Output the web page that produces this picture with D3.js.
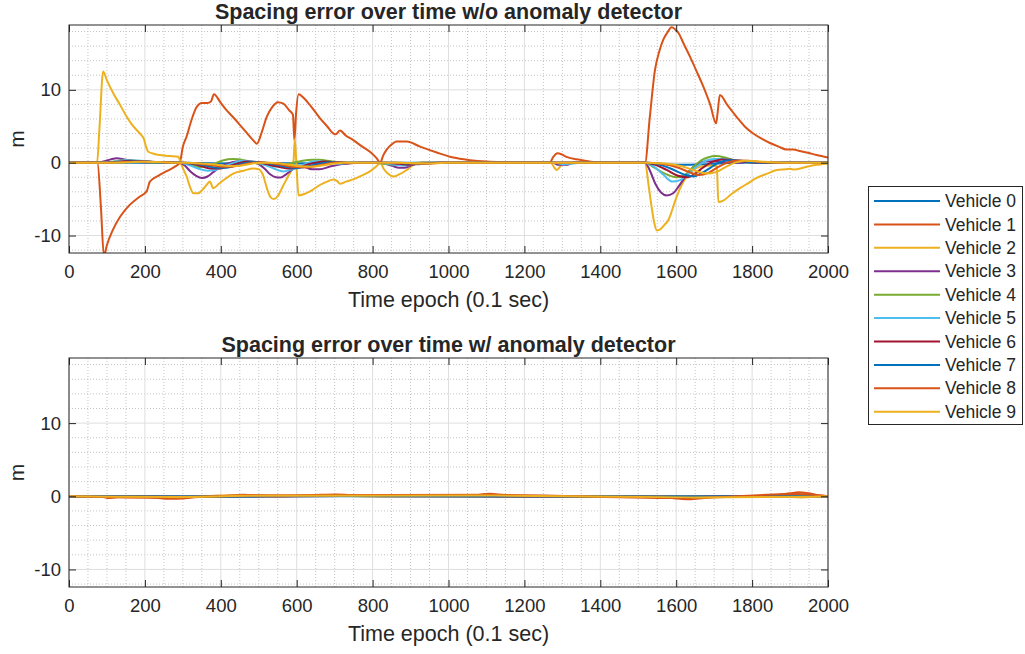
<!DOCTYPE html>
<html><head><meta charset="utf-8">
<script src="https://cdn.jsdelivr.net/npm/d3@7"></script>
<style>
body{margin:0;background:#fff;}
svg{display:block;}
text{font-family:"Liberation Sans",Arial,Helvetica,sans-serif;fill:#262626;}
</style>
</head><body>
<svg id="chart" width="1025" height="654"></svg>
<script>
// ---------------- data ----------------
const vehicleNames = ["Vehicle 0","Vehicle 1","Vehicle 2","Vehicle 3","Vehicle 4","Vehicle 5","Vehicle 6","Vehicle 7","Vehicle 8","Vehicle 9"];
const vehicleColors = ["#0072BD","#D95319","#EDB120","#7E2F8E","#77AC30","#4DBEEE","#A2142F","#0072BD","#D95319","#EDB120"];
const xTickValues = [0,200,400,600,800,1000,1200,1400,1600,1800,2000];
const yTickValues = [-10,0,10];
const xMinorValues = [50,100,150,250,300,350,450,500,550,650,700,750,850,900,950,1050,1100,1150,1250,1300,1350,1450,1500,1550,1650,1700,1750,1850,1900,1950];
const yMinorValues = [-12,-8,-6,-4,-2,2,4,6,8,12,14,16,18];
const xDomain = [0,2000];
const yDomain = [-12.4,18.9];
const panelTitles = ["Spacing error over time w/o anomaly detector","Spacing error over time w/ anomaly detector"];
const xAxisLabel = "Time epoch (0.1 sec)";
const yAxisLabel = "m";

// top panel (w/o detector): [epoch, error in m]
const topV0 = [[0,0],[300,0],[400,-0.1],[500,0],[600,-0.1],[700,0],[1520,0],[1600,-0.3],[1680,-0.2],[1750,0],[2000,0]];
const topV1 = [[0,0],[60,0.05],[75,0],[84,-6],[92,-12.8],[100,-11.3],[115,-9.3],[135,-7.4],[160,-5.8],[185,-4.7],[205,-3.9],[213,-2.6],[235,-1.8],[260,-1.1],[280,-0.5],[292,0],[300,2.2],[310,3.6],[323,5.9],[336,7.6],[350,8.2],[365,8.2],[374,8.4],[382,9.4],[400,8.2],[415,7.2],[435,6.1],[450,5.2],[470,4.0],[485,3.1],[495,2.6],[508,4.2],[521,6.3],[535,7.6],[550,8.3],[565,8.1],[580,7.2],[590,6.6],[594,3.0],[598,6.5],[605,9.4],[620,8.8],[635,7.9],[660,6.2],[680,5.0],[697,4.0],[703,3.9],[714,4.4],[730,3.7],[749,3.1],[770,2.3],[793,1.5],[811,0.6],[820,0],[828,1.0],[837,1.8],[850,2.5],[863,2.9],[890,2.9],[925,2.2],[969,1.4],[1013,0.7],[1057,0.35],[1100,0.15],[1145,0.05],[1200,0],[1267,0],[1275,0.7],[1287,1.3],[1300,1.1],[1311,0.8],[1346,0.4],[1381,0.1],[1420,0],[1518,0],[1530,6],[1544,12.7],[1555,15.2],[1566,16.9],[1576,17.8],[1588,18.6],[1597,18.3],[1606,17.8],[1620,16.3],[1636,14.6],[1655,12.4],[1671,10.5],[1690,7.9],[1705,5.4],[1709,6.8],[1715,9.3],[1735,7.9],[1759,6.3],[1780,5.0],[1803,4.0],[1825,3.3],[1847,2.7],[1870,2.2],[1891,1.8],[1909,1.8],[1925,1.6],[1944,1.4],[1970,1.05],[2000,0.7]];
const topV2 = [[0,0],[60,0],[74,0],[80,4.5],[90,12.5],[100,11.3],[117,9.5],[135,7.9],[152,6.3],[165,5.3],[178,4.5],[192,3.7],[197,3.3],[203,2.2],[209,1.5],[225,1.2],[240,1.05],[265,0.9],[288,0.8],[294,0],[302,-1],[310,-1.9],[318,-3.2],[328,-4.2],[340,-4.2],[352,-3.7],[365,-2.9],[371,-2.6],[380,-3.5],[395,-2.9],[415,-2.1],[433,-1.5],[460,-1.1],[486,-0.8],[500,-0.9],[512,-1.8],[522,-3.6],[532,-4.8],[540,-5.0],[550,-4.6],[565,-3.1],[578,-1.8],[588,-0.7],[592,0.5],[595,3.2],[599,0],[605,-4.5],[620,-4.3],[640,-3.8],[660,-3.1],[680,-2.6],[697,-2.3],[706,-2.5],[714,-2.9],[730,-2.6],[749,-2.3],[770,-1.8],[793,-1.2],[810,-0.5],[820,0],[830,-0.9],[840,-1.5],[855,-1.9],[870,-1.6],[890,-1.0],[907,-0.3],[925,0],[1270,0],[1278,-0.6],[1285,-1.0],[1293,-0.6],[1300,0],[1518,0],[1527,-3],[1535,-6.0],[1542,-8.2],[1549,-9.3],[1557,-9.2],[1568,-8.6],[1579,-7.9],[1584,-7.3],[1588,-6.7],[1601,-4.7],[1614,-3.1],[1628,-1.9],[1645,-1.0],[1663,-0.55],[1690,-0.4],[1707,-0.45],[1711,-5.4],[1724,-5.2],[1746,-4.3],[1768,-3.5],[1790,-2.8],[1812,-2.1],[1840,-1.5],[1865,-1.0],[1890,-0.9],[1900,-0.85],[1910,-0.95],[1944,-0.55],[1970,-0.3],[2000,-0.1]];
const topV3 = [[0,0],[75,0],[90,0.15],[110,0.45],[126,0.6],[145,0.45],[170,0.2],[200,0.05],[292,0],[305,-0.4],[320,-1.2],[335,-1.8],[350,-2.1],[365,-1.9],[380,-1.3],[395,-0.7],[410,-0.3],[430,0.05],[450,0.2],[480,0.1],[500,-0.2],[515,-0.8],[530,-1.6],[545,-2.0],[558,-2.05],[572,-1.6],[590,-0.9],[600,-0.5],[615,-0.5],[640,-0.9],[660,-0.9],[690,-0.5],[720,-0.2],[760,0],[820,0],[850,-0.4],[870,-0.7],[885,-0.7],[905,-0.3],[930,0],[1275,0],[1290,-0.3],[1310,-0.3],[1330,0],[1518,0],[1530,-1.0],[1545,-2.9],[1560,-4.1],[1575,-4.5],[1592,-4.2],[1606,-3.3],[1619,-2.3],[1632,-1.3],[1645,-0.6],[1660,-0.1],[1675,0.15],[1700,0.2],[1730,0.05],[1760,0],[2000,0]];
const topV4 = [[0,0],[80,0],[110,0.1],[140,0.3],[165,0.3],[200,0.1],[240,0],[292,0],[320,-0.3],[345,-0.6],[365,-0.5],[385,-0.1],[405,0.3],[433,0.5],[460,0.35],[490,0],[520,-0.3],[545,-0.5],[570,-0.3],[590,0],[610,0.2],[640,0.4],[660,0.4],[690,0.2],[720,0],[800,0],[840,-0.2],[880,-0.3],[920,0],[1280,0],[1300,-0.15],[1330,0],[1518,0],[1540,-0.6],[1570,-1.5],[1600,-2.0],[1625,-1.6],[1645,-0.6],[1665,0.3],[1685,0.75],[1705,0.9],[1725,0.75],[1750,0.35],[1780,0.05],[1820,-0.05],[1860,0],[2000,0]];
const topV5 = [[0,0],[80,0],[115,0.1],[150,0.35],[180,0.3],[220,0.1],[260,0],[292,0],[315,-0.3],[340,-0.8],[365,-1.1],[385,-1.0],[405,-0.6],[430,-0.1],[455,0.25],[480,0.2],[510,-0.2],[540,-0.8],[565,-1.2],[590,-0.9],[610,-0.5],[630,0],[650,0.2],[680,0.1],[710,-0.15],[760,0],[820,0],[860,-0.3],[890,-0.4],[920,-0.1],[960,0],[1280,0],[1300,-0.2],[1330,-0.1],[1360,0],[1518,0],[1540,-0.5],[1565,-1.6],[1590,-2.6],[1610,-2.4],[1630,-1.6],[1655,-0.5],[1680,0.3],[1700,0.5],[1725,0.5],[1750,0.25],[1790,0],[2000,0]];
const topV6 = [[0,0],[90,0],[125,0.1],[160,0.25],[195,0.2],[240,0.05],[292,0],[320,-0.1],[350,-0.5],[375,-0.8],[400,-0.8],[420,-0.5],[445,-0.1],[470,0.15],[495,0.1],[520,-0.2],[555,-0.6],[580,-0.8],[605,-0.7],[625,-0.3],[650,0],[675,0.15],[700,0.05],[730,-0.1],[780,0],[830,0],[870,-0.15],[900,-0.3],[930,-0.1],[980,0],[1518,0],[1545,-0.3],[1575,-1.0],[1605,-1.8],[1630,-2.0],[1650,-1.5],[1670,-0.7],[1695,0.1],[1720,0.45],[1745,0.4],[1770,0.15],[1810,0],[2000,0]];
const topV7 = [[0,0],[95,0],[135,0.1],[175,0.2],[215,0.12],[260,0],[292,0],[330,-0.1],[360,-0.4],[390,-0.7],[415,-0.7],[440,-0.4],[465,-0.05],[490,0.1],[515,0],[545,-0.3],[575,-0.6],[600,-0.75],[620,-0.6],[645,-0.3],[670,-0.05],[700,0.1],[730,0],[850,0],[890,-0.1],[920,-0.2],[960,-0.05],[1000,0],[1518,0],[1550,-0.2],[1585,-0.8],[1620,-1.6],[1645,-1.9],[1665,-1.5],[1690,-0.7],[1712,0],[1735,0.35],[1760,0.35],[1790,0.1],[1830,0],[2000,0]];
const topV8 = [[0,0],[100,0],[145,0.08],[190,0.15],[230,0.08],[280,0],[300,0],[340,-0.1],[375,-0.35],[405,-0.55],[430,-0.55],[455,-0.3],[480,-0.05],[505,0.05],[530,-0.05],[560,-0.3],[595,-0.6],[625,-0.65],[650,-0.45],[680,-0.15],[710,0.05],[740,0],[860,0],[900,-0.1],[940,-0.15],[980,0],[1518,0],[1560,-0.15],[1600,-0.6],[1635,-1.3],[1660,-1.7],[1685,-1.4],[1710,-0.6],[1735,0],[1760,0.3],[1790,0.25],[1830,0.05],[1870,0],[2000,0]];
const topV9 = [[0,0],[105,0],[155,0.05],[200,0.12],[245,0.06],[290,0],[310,0],[350,-0.1],[390,-0.3],[420,-0.45],[445,-0.45],[470,-0.25],[495,-0.05],[520,0],[545,-0.05],[575,-0.25],[610,-0.5],[640,-0.55],[665,-0.4],[695,-0.15],[725,0],[870,0],[920,-0.08],[960,-0.1],[1000,0],[1518,0],[1570,-0.1],[1615,-0.5],[1650,-1.1],[1680,-1.5],[1705,-1.3],[1730,-0.6],[1755,0],[1780,0.25],[1810,0.2],[1850,0.05],[1890,0],[2000,0]];

// bottom panel (w/ detector)
const botV0 = [[0,0],[2000,0]];
const botV1 = [[0,0],[80,0],[108,-0.25],[140,-0.05],[180,0],[230,-0.2],[266,-0.35],[300,-0.3],[330,-0.1],[360,0],[420,0.1],[459,0.2],[500,0.1],[540,0],[600,0.05],[661,0.2],[705,0.25],[740,0.15],[790,0.05],[830,0],[1000,0.05],[1060,0.1],[1109,0.35],[1140,0.2],[1180,0],[1250,0.05],[1400,0],[1560,0],[1600,-0.3],[1628,-0.4],[1660,-0.3],[1700,-0.1],[1760,0],[1850,0.1],[1900,0.4],[1922,0.55],[1950,0.4],[1980,0.1],[2000,0]];
const botV2 = [[0,0],[100,-0.1],[140,0],[240,-0.1],[290,-0.15],[340,0],[450,0.1],[500,0],[650,0.1],[720,0.1],[800,0],[1100,0.1],[1150,0],[1560,0],[1600,-0.2],[1640,-0.25],[1700,-0.1],[1760,0],[1880,-0.05],[1930,-0.15],[1970,-0.05],[2000,0]];
const botV3 = [[0,0],[120,-0.05],[280,-0.1],[450,0.05],[700,0.05],[1120,0.05],[1620,-0.1],[1920,0.1],[2000,0]];
const botV4 = [[0,0],[130,-0.05],[290,-0.08],[460,0.04],[710,0.05],[1620,-0.08],[1920,0.08],[2000,0]];
const botV5 = [[0,0],[140,-0.04],[300,-0.07],[470,0.03],[720,0.04],[1630,-0.07],[1925,0.07],[2000,0]];
const botV6 = [[0,0],[150,-0.03],[300,-0.06],[720,0.03],[1630,-0.06],[1930,0.05],[2000,0]];
const botV7 = [[0,0],[160,-0.03],[310,-0.05],[730,0.03],[1640,-0.05],[1930,0.04],[2000,0]];
const botV8 = [[0,0],[120,-0.12],[280,-0.2],[460,0.12],[690,0.15],[1110,0.2],[1630,-0.25],[1920,0.3],[2000,0]];
const botV9 = [[0,0],[130,-0.06],[290,-0.1],[470,0.06],[700,0.08],[1120,0.1],[1640,-0.15],[1930,-0.08],[2000,0]];

const topSeries = [topV0,topV1,topV2,topV3,topV4,topV5,topV6,topV7,topV8,topV9];
const botSeries = [botV0,botV1,botV2,botV3,botV4,botV5,botV6,botV7,botV8,botV9];

// ---------------- drawing ----------------
const svg = d3.select("#chart");
svg.append("rect").attr("width",1025).attr("height",654).attr("fill","#fff");

const left = 69, right = 828;
const panels = [
  {top:25, bottom:253, title:panelTitles[0], series:topSeries, id:"p0"},
  {top:358, bottom:587, title:panelTitles[1], series:botSeries, id:"p1"}
];

panels.forEach(p => {
  const x = d3.scaleLinear().domain(xDomain).range([left,right]);
  const y = d3.scaleLinear().domain(yDomain).range([p.bottom,p.top]);
  const g = svg.append("g");

  g.append("clipPath").attr("id","clip"+p.id)
    .append("rect").attr("x",left).attr("y",p.top).attr("width",right-left).attr("height",p.bottom-p.top);

  // minor grid
  g.append("g").selectAll("line").data(xMinorValues).join("line")
    .attr("x1",d=>x(d)).attr("x2",d=>x(d)).attr("y1",p.top).attr("y2",p.bottom)
    .attr("stroke","#c4c4c4").attr("stroke-width",1).attr("stroke-dasharray","1,2");
  g.append("g").selectAll("line").data(yMinorValues).join("line")
    .attr("y1",d=>y(d)).attr("y2",d=>y(d)).attr("x1",left).attr("x2",right)
    .attr("stroke","#c4c4c4").attr("stroke-width",1).attr("stroke-dasharray","1,2");
  // major grid
  g.append("g").selectAll("line").data(xTickValues).join("line")
    .attr("x1",d=>x(d)).attr("x2",d=>x(d)).attr("y1",p.top).attr("y2",p.bottom)
    .attr("stroke","#dedede").attr("stroke-width",1);
  g.append("g").selectAll("line").data(yTickValues).join("line")
    .attr("y1",d=>y(d)).attr("y2",d=>y(d)).attr("x1",left).attr("x2",right)
    .attr("stroke","#dedede").attr("stroke-width",1);

  // lines
  const line = d3.line().x(d=>x(d[0])).y(d=>y(d[1])).curve(d3.curveMonotoneX);
  g.append("g").attr("clip-path","url(#clip"+p.id+")")
    .selectAll("path").data(p.series).join("path")
    .attr("d",line).attr("fill","none")
    .attr("stroke",(d,i)=>vehicleColors[i]).attr("stroke-width",2)
    .attr("stroke-linejoin","round");

  // axes
  const tickLen = 7;
  const fmt = d => String(d);
  const xb = g.append("g").attr("transform",`translate(0,${p.bottom})`)
    .call(d3.axisBottom(x).tickValues(xTickValues).tickSize(-tickLen).tickPadding(12).tickFormat(fmt));
  const xt = g.append("g").attr("transform",`translate(0,${p.top})`)
    .call(d3.axisTop(x).tickValues(xTickValues).tickSize(-tickLen).tickFormat(""));
  const yl = g.append("g").attr("transform",`translate(${left},0)`)
    .call(d3.axisLeft(y).tickValues(yTickValues).tickSize(-tickLen).tickPadding(8).tickFormat(fmt));
  const yr = g.append("g").attr("transform",`translate(${right},0)`)
    .call(d3.axisRight(y).tickValues(yTickValues).tickSize(-tickLen).tickFormat(""));
  [xb,xt,yl,yr].forEach(a=>{
    a.select(".domain").remove();
    a.selectAll(".tick line").attr("stroke","#262626");
    a.selectAll("text").attr("font-size","18.5px").attr("fill","#262626")
      .attr("font-family",'"Liberation Sans",Arial,sans-serif');
  });
  g.append("rect").attr("x",left).attr("y",p.top).attr("width",right-left).attr("height",p.bottom-p.top)
    .attr("fill","none").attr("stroke","#262626").attr("stroke-width",1);

  // labels
  g.append("text").attr("x",(left+right)/2).attr("y",p.top-6)
    .attr("text-anchor","middle").attr("font-weight","bold").attr("font-size","21.5px").text(p.title);
  g.append("text").attr("x",(left+right)/2).attr("y",p.bottom+54)
    .attr("text-anchor","middle").attr("font-size","21.5px").text(xAxisLabel);
  g.append("text").attr("transform",`translate(24,${(p.top+p.bottom)/2}) rotate(-90)`)
    .attr("text-anchor","middle").attr("font-size","21px").text(yAxisLabel);
});

// legend
const lg = svg.append("g");
lg.append("rect").attr("x",868.5).attr("y",186.5).attr("width",154).attr("height",238)
  .attr("fill","#fff").attr("stroke","#262626").attr("stroke-width",1);
const rowY = d3.scaleLinear().domain([0,9]).range([201,411.7]);
vehicleNames.forEach((name,i)=>{
  lg.append("line").attr("x1",874).attr("x2",940).attr("y1",rowY(i)).attr("y2",rowY(i))
    .attr("stroke",vehicleColors[i]).attr("stroke-width",2);
  lg.append("text").attr("x",945).attr("y",rowY(i)).attr("dy","0.35em")
    .attr("font-size","17.5px").text(name);
});
</script>
</body></html>
